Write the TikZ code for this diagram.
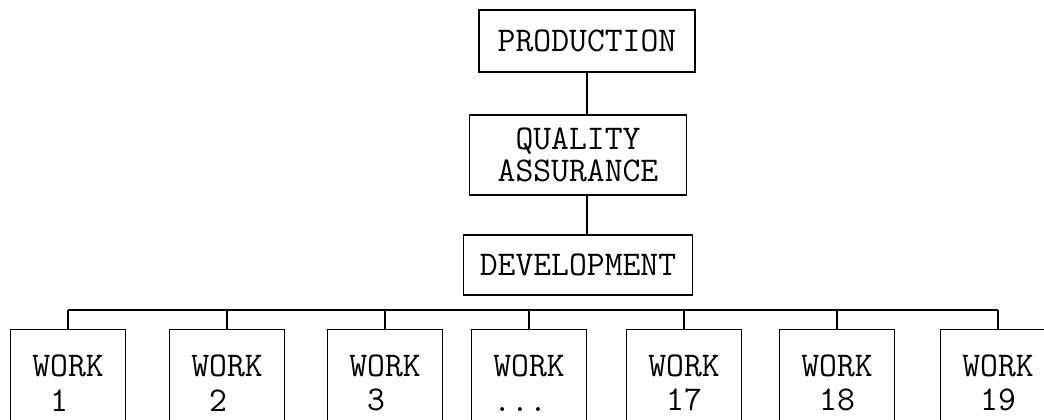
\documentclass[tikz,border=0pt]{standalone}
\usetikzlibrary{positioning}

\tikzset{
	unit/.style={draw, line width=1.2, inner sep=0pt, align=center,
		font=\ttfamily\fontsize{26}{24}\selectfont},
	workbox/.style={unit, minimum width=86pt, minimum height=80pt, align=left,
		font=\ttfamily\fontsize{26}{26}\selectfont},
	link/.style={line width=1.2}
}

\begin{document}
\begin{tikzpicture}[x=0.75pt, y=-0.75pt]
		\useasboundingbox (0, 0) rectangle (1044, 420);
		\clip (0, 0) rectangle (1044, 420);

		\node [unit, minimum width=162pt, minimum height=46.5pt] (prod) at (587, 41) {PRODUCTION};
		\node [unit, minimum width=163pt, minimum height=60pt] (qa) at (578, 155) {QUALITY\\ASSURANCE};
		\node [unit, minimum width=172pt, minimum height=45pt] (dev) at (578, 265) {DEVELOPMENT};

		\draw [link] (prod.south) -- (prod.south |- qa.north);
		\draw [link] (prod.south |- qa.south) -- (prod.south |- dev.north);

		\coordinate (busL) at (68, 310);
		\coordinate (busR) at (998, 310);
		\draw [link] (busL) -- (busR);

		\foreach \name/\x/\txt in {w1/68/~1, w2/227/~2, w3/385/~3, wdots/529/{...}, w17/684/~17, w18/837/~18, w19/998/~19} {
			\node [workbox] (\name) at (\x, 383) {WORK\\\txt};
			\draw [link] (\name.north) -- (\name.north |- busL);
		}
	\end{tikzpicture}
\end{document}
